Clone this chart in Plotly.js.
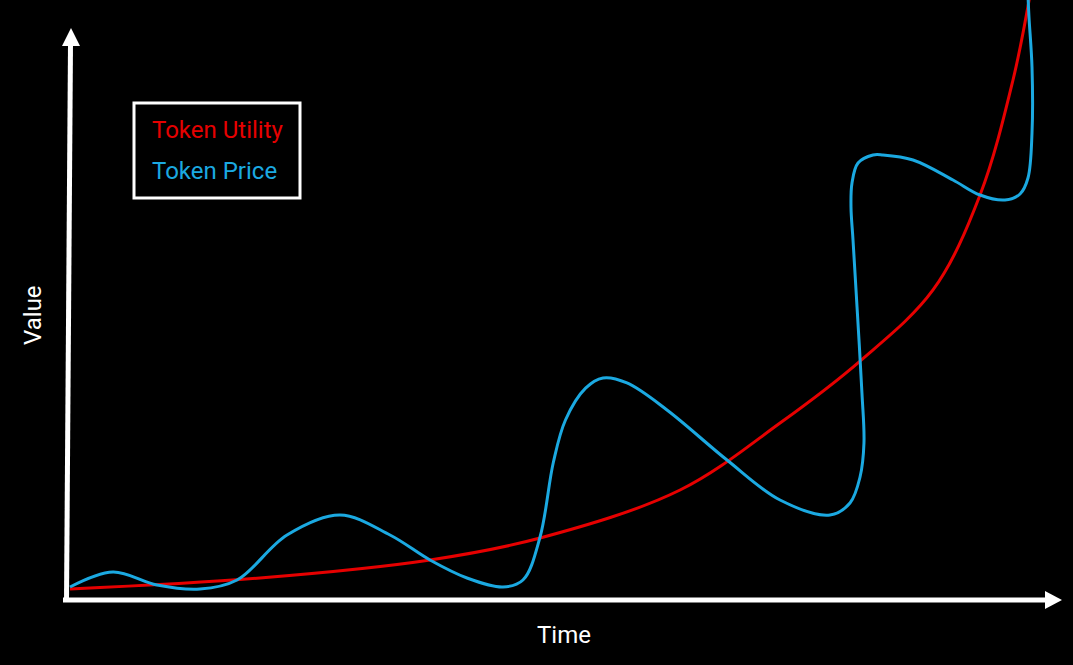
<!DOCTYPE html>
<html>
<head>
<meta charset="utf-8">
<script src="https://cdn.plot.ly/plotly-3.0.1.min.js"></script>
<style>html,body{margin:0;padding:0;background:#000;}#chart{width:1073px;height:665px;}</style>
</head>
<body>
<div id="chart"></div>
<script>
// Token Utility (red) — time vs value
const utilityTime  = [0.2, 19.1, 36.02, 46.97, 60.9, 70.85, 78.81, 86.07, 90.75, 94.03, 95.72];
const utilityValue = [1.83, 3.67, 6.67, 10.33, 18.33, 29.5, 39.83, 51.67, 67.5, 86.67, 100.83];

// Token Price (blue) — time vs value
const priceTime  = [0.2, 4.48, 8.86, 13.13, 16.82, 21.79, 27.06, 32.04, 36.02, 39.7, 43.28, 45.27, 46.97, 48.3, 49.5, 51.5, 53.23, 55.62, 59.6, 65.57, 70.85, 75.82, 77.81, 78.81, 79.2, 79.0, 78.51, 78.11, 77.91, 78.01, 78.61, 80.1, 81.09, 84.08, 88.06, 90.75, 93.23, 94.73, 95.52, 95.92, 95.92, 95.62, 95.52];
const priceValue = [2.17, 4.67, 2.5, 1.83, 3.33, 10.83, 14.17, 10.83, 6.67, 3.67, 2.17, 3.33, 10.5, 23.0, 30.0, 35.3, 37, 36.17, 31.67, 23.33, 16.67, 14.17, 16.17, 20.5, 26.17, 34.5, 48.83, 60, 65.5, 69.5, 72.83, 74.17, 74.17, 73.33, 70, 67.5, 66.67, 67.67, 70.33, 77.83, 88.83, 97.17, 100.83];

const seriesNames = ["Token Utility", "Token Price"];
const seriesColors = ["#e60000", "#1ba9e1"];
const xTitle = "Time";
const yTitle = "Value";

// layout geometry (pixels)
const W = 1073, H = 665, ML = 68, MB = 65;
const PW = W - ML, PH = H - MB;
const px = x => (x - ML) / PW;        // pixel -> paper x
const py = y => (H - MB - y) / PH;    // pixel -> paper y

const traces = [
  {x: utilityTime, y: utilityValue, mode: "lines", line: {color: seriesColors[0], width: 3, shape: "spline", smoothing: 1}, showlegend: false, hoverinfo: "skip"},
  {x: priceTime, y: priceValue, mode: "lines", line: {color: seriesColors[1], width: 3, shape: "spline", smoothing: 1}, showlegend: false, hoverinfo: "skip"},
  {x: [null], y: [null], mode: "lines", line: {color: "rgba(0,0,0,0)", width: 0}, name: '<span style="color:' + seriesColors[0] + '">' + seriesNames[0] + '</span>', legendgroup: "a"},
  {x: [null], y: [null], mode: "lines", line: {color: "rgba(0,0,0,0)", width: 0}, name: '<span style="color:' + seriesColors[1] + '">' + seriesNames[1] + '</span>', legendgroup: "b"}
];

const white = "#ffffff";
const layout = {
  width: W, height: H,
  margin: {l: ML, r: 0, t: 0, b: MB, pad: 0},
  paper_bgcolor: "#000", plot_bgcolor: "#000",
  font: {family: "Roboto, sans-serif", color: white},
  xaxis: {range: [0, 100], visible: false, fixedrange: true},
  yaxis: {range: [0, 100], visible: false, fixedrange: true},
  showlegend: true,
  legend: {
    x: px(112), y: py(107), xanchor: "left", yanchor: "top",
    bgcolor: "rgba(0,0,0,0)", borderwidth: 0,
    font: {family: "Roboto, sans-serif", size: 24},
    traceorder: "grouped", tracegroupgap: 6, itemclick: false, itemdoubleclick: false
  },
  shapes: [
    // y axis
    {type: "line", xref: "paper", yref: "paper", x0: px(66.5), y0: py(602), x1: px(70.5), y1: py(44), line: {color: white, width: 5}},
    {type: "path", xref: "paper", yref: "paper",
     path: "M " + px(71) + " " + py(28) + " L " + px(62) + " " + py(46) + " L " + px(80) + " " + py(46) + " Z",
     fillcolor: white, line: {color: white, width: 0}},
    // x axis
    {type: "line", xref: "paper", yref: "paper", x0: px(63), y0: py(600), x1: px(1047), y1: py(600), line: {color: white, width: 5}},
    {type: "path", xref: "paper", yref: "paper",
     path: "M " + px(1062) + " " + py(600) + " L " + px(1045) + " " + py(591) + " L " + px(1045) + " " + py(609) + " Z",
     fillcolor: white, line: {color: white, width: 0}},
    // legend box
    {type: "rect", xref: "paper", yref: "paper", x0: px(134), y0: py(103), x1: px(300), y1: py(198), line: {color: white, width: 3}, fillcolor: "rgba(0,0,0,0)"}
  ],
  annotations: [
    {text: xTitle, xref: "paper", yref: "paper", x: px(563.5), y: py(635), showarrow: false, font: {size: 24, color: white}, xanchor: "center", yanchor: "middle"},
    {text: yTitle, xref: "paper", yref: "paper", x: px(33), y: py(315), showarrow: false, textangle: -90, font: {size: 24, color: white}, xanchor: "center", yanchor: "middle"}
  ]
};

Plotly.newPlot("chart", traces, layout, {displayModeBar: false, staticPlot: true});
</script>
</body>
</html>
